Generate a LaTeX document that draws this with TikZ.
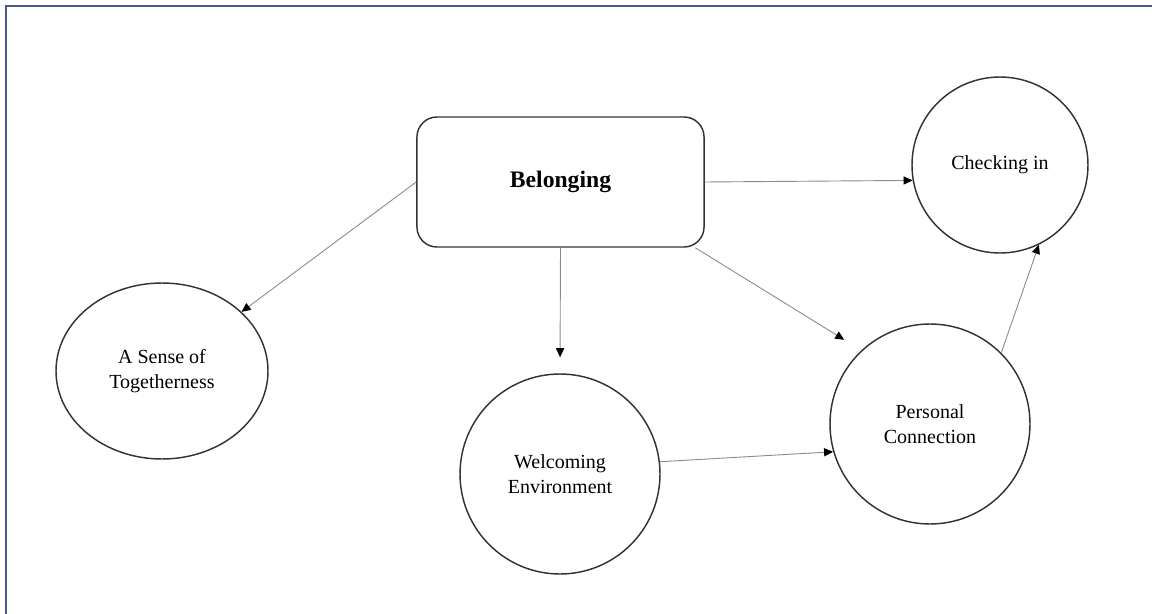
\documentclass[tikz,border=0pt]{standalone}
\usepackage{fontspec}
\setmainfont{Liberation Serif}
\usepackage{tikz}
\usetikzlibrary{shapes.geometric}
\usetikzlibrary{arrows.meta}

\begin{document}
\begin{tikzpicture}[x=0.55pt,y=-0.55pt,line cap=rect,
		bubble/.style={draw=custcol_33_33_33, line width=0.8pt, inner sep=0pt, align=center, font=\fontsize{11}{13.75}\selectfont},
		link/.style={draw=custcol_8c_8c_8c, line width=0.5pt, line cap=butt, -{Triangle[length=5pt,width=4.5pt,fill=black,color=black]}}]
				\definecolor{custcol_33_33_33}{RGB}{51, 51, 51}
				\definecolor{custcol_8c_8c_8c}{RGB}{140, 140, 140}
				\definecolor{custcol_4a_5c_7c}{RGB}{74, 92, 124}
				\useasboundingbox (0,0) rectangle (1152,614);
				\draw [line width=1.1pt, custcol_4a_5c_7c]  (6,620) -- (6,6) -- (1160,6) ;
				\node[bubble, rectangle, rounded corners=11pt, minimum width=157.9pt, minimum height=71.5pt, font=\fontsize{13}{16}\selectfont\bfseries] (belong) at (560.5,182) {Belonging};
				\node[bubble, ellipse, minimum width=116.6pt, minimum height=96.8pt] (together) at (162,371) {A Sense of\\Togetherness};
				\node[bubble, circle, minimum size=110pt] (welcome) at (560,474) {Welcoming\\Environment};
				\node[bubble, circle, minimum size=110pt] (personal) at (930,424) {Personal\\Connection};
				\node[bubble, circle, minimum size=96.8pt] (checkin) at (1000,165) {Checking in};
				\draw [link]  (belong.west) -- (together) ;
				\draw [link, shorten >=8.8pt]  (belong.south) -- (welcome.north) ;
				\draw [link]  (belong.east) -- (checkin.190) ;
				\draw [link, shorten >=11pt]  (belong.-26) -- (personal.133) ;
				\draw [link]  (welcome.7) -- (personal.196) ;
				\draw [link]  (personal.45) -- (checkin.-64) ;
			\end{tikzpicture}
\end{document}
